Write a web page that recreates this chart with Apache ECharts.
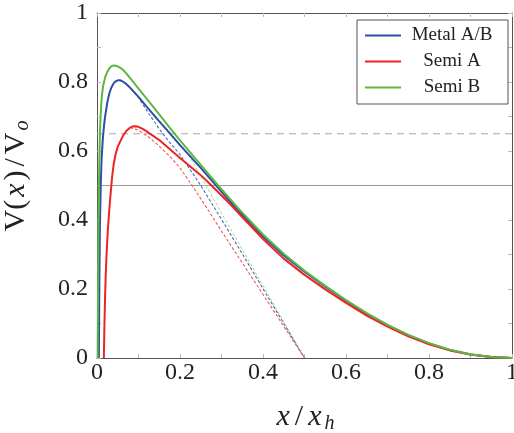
<!DOCTYPE html>
<html>
<head>
<meta charset="utf-8">
<script src="https://cdn.jsdelivr.net/npm/echarts@6/dist/echarts.min.js"></script>
<style>
  html, body { margin: 0; padding: 0; background: #fff; }
  #chart { width: 514px; height: 433px; }
</style>
</head>
<body>
<div id="chart"></div>
<script>
// Normalised potential V(x)/Vo across the depletion width x/xh

// Metal A/B (full solution)
const metalX = [0.0045, 0.0055, 0.007, 0.009, 0.011, 0.014, 0.017, 0.02, 0.025, 0.03, 0.035, 0.04, 0.045, 0.05, 0.055, 0.06, 0.07, 0.08, 0.09, 0.1, 0.12, 0.15, 0.175, 0.2, 0.25, 0.287, 0.335, 0.4, 0.45, 0.5, 0.55, 0.6, 0.65, 0.7, 0.75, 0.8, 0.85, 0.9, 0.95, 1.0];
const metalY = [0, 0.2, 0.38, 0.5, 0.575, 0.635, 0.675, 0.703, 0.742, 0.768, 0.785, 0.796, 0.802, 0.805, 0.805, 0.803, 0.795, 0.783, 0.77, 0.757, 0.728, 0.686, 0.652, 0.617, 0.551, 0.5, 0.434, 0.352, 0.297, 0.25, 0.207, 0.166, 0.128, 0.095, 0.066, 0.042, 0.023, 0.01, 0.003, 0];

// Semi A
const semiAX = [0.0165, 0.018, 0.0195, 0.021, 0.023, 0.026, 0.029, 0.032, 0.036, 0.04, 0.045, 0.05, 0.056, 0.063, 0.07, 0.078, 0.085, 0.092, 0.1, 0.11, 0.12, 0.13, 0.14, 0.152, 0.175, 0.2, 0.25, 0.276, 0.32, 0.4, 0.45, 0.5, 0.55, 0.6, 0.65, 0.7, 0.75, 0.8, 0.85, 0.9, 0.95, 1.0];
const semiAY = [0, 0.1, 0.18, 0.24, 0.3, 0.37, 0.42, 0.465, 0.52, 0.56, 0.592, 0.612, 0.628, 0.645, 0.657, 0.666, 0.671, 0.672, 0.67, 0.664, 0.657, 0.648, 0.64, 0.63, 0.606, 0.58, 0.53, 0.5, 0.447, 0.345, 0.288, 0.241, 0.199, 0.16, 0.123, 0.091, 0.063, 0.04, 0.022, 0.01, 0.003, 0];

// Semi B
const semiBX = [0.0015, 0.0025, 0.0035, 0.005, 0.0065, 0.008, 0.01, 0.012, 0.015, 0.02, 0.025, 0.03, 0.035, 0.04, 0.045, 0.05, 0.06, 0.07, 0.08, 0.09, 0.1, 0.12, 0.15, 0.175, 0.2, 0.25, 0.292, 0.345, 0.4, 0.45, 0.5, 0.55, 0.6, 0.65, 0.7, 0.75, 0.8, 0.85, 0.9, 0.95, 1.0];
const semiBY = [0, 0.2, 0.38, 0.53, 0.62, 0.685, 0.73, 0.763, 0.79, 0.815, 0.83, 0.84, 0.846, 0.848, 0.847, 0.845, 0.838, 0.826, 0.811, 0.796, 0.781, 0.751, 0.706, 0.668, 0.631, 0.56, 0.5, 0.428, 0.358, 0.302, 0.253, 0.209, 0.168, 0.13, 0.096, 0.067, 0.043, 0.024, 0.011, 0.003, 0];

// Approximate (depletion) profiles, dashed
const metalApproxX = [0.065, 0.08, 0.1, 0.12, 0.15, 0.175, 0.2, 0.25, 0.3, 0.35, 0.4, 0.45, 0.5];
const metalApproxY = [0.8, 0.785, 0.755, 0.717, 0.664, 0.625, 0.59, 0.5, 0.402, 0.302, 0.201, 0.1, 0];

const semiAApproxX = [0.08, 0.1, 0.125, 0.15, 0.175, 0.2, 0.228, 0.25, 0.3, 0.35, 0.4, 0.45, 0.5];
const semiAApproxY = [0.668, 0.66, 0.64, 0.614, 0.585, 0.551, 0.502, 0.462, 0.368, 0.276, 0.184, 0.092, 0];

const semiBApproxX = [0.12, 0.15, 0.176, 0.2, 0.224, 0.264, 0.3, 0.35, 0.4, 0.45, 0.5];
const semiBApproxY = [0.725, 0.69, 0.653, 0.62, 0.583, 0.497, 0.42, 0.315, 0.21, 0.105, 0];

// Horizontal reference levels
const solidLevel = 0.5;
const dashedLevel = 0.65;

// Axis tick labels
const xTickLabels = ['0', '0.2', '0.4', '0.6', '0.8', '1'];
const yTickLabels = ['0', '0.2', '0.4', '0.6', '0.8', '1'];

const FONT = '"Liberation Serif", "DejaVu Serif", serif';
const C_METAL = '#2e4ea8';
const C_SEMIA = '#ee2424';
const C_SEMIB = '#5cb840';

function pairs(xs, ys) { return xs.map((x, i) => [x, ys[i]]); }

function axisCommon(extra) {
  return Object.assign({
    type: 'value', min: 0, max: 1, interval: 0.2,
    axisLine: { show: true, onZero: false, lineStyle: { color: '#555', width: 1 } },
    axisTick: { show: true, inside: true, length: 4, lineStyle: { color: '#bbb', width: 1 } },
    minorTick: { show: true, splitNumber: 2, length: 4, lineStyle: { color: '#bbb', width: 1 } },
    splitLine: { show: false },
    minorSplitLine: { show: false }
  }, extra);
}

const chart = echarts.init(document.getElementById('chart'), null, { renderer: 'canvas' });

const nameRich = {
  r: { fontFamily: FONT, fontSize: 30, color: '#222', padding: [0, 1, 0, 1] },
  sl: { fontFamily: FONT, fontSize: 30, color: '#222', padding: [0, 3, 0, 3] },
  i: { fontFamily: FONT, fontSize: 30, fontStyle: 'italic', color: '#222', padding: [0, 2, 0, 2] },
  s: { fontFamily: FONT, fontSize: 20, fontStyle: 'italic', color: '#222', padding: [13, 0, 0, 1] }
};

function curve(name, xs, ys, color, z) {
  return {
    name, type: 'line', data: pairs(xs, ys), showSymbol: false, symbol: 'none',
    smooth: false, z,
    color, lineStyle: { color, width: 2 }, silent: true
  };
}
function approx(name, xs, ys, color, width, dash, offset, z) {
  return {
    name, type: 'line', data: pairs(xs, ys), showSymbol: false, symbol: 'none',
    smooth: false, z,
    lineStyle: { color, width, type: dash, dashOffset: offset }, silent: true
  };
}
function level(value, color, dash) {
  return {
    type: 'line', data: [[0, value], [1, value]], showSymbol: false, symbol: 'none', z: 1,
    lineStyle: { color, width: 1, type: dash }, silent: true
  };
}

chart.setOption({
  animation: false,
  backgroundColor: '#fff',
  grid: { left: 97, top: 13, right: 2, bottom: 75, containLabel: false, outerBoundsMode: 'none' },
  xAxis: [
    axisCommon({
      position: 'bottom',
      axisLabel: { fontFamily: FONT, fontSize: 24, color: '#222', margin: 3,
        formatter: v => xTickLabels[Math.round(v / 0.2)] },
      name: '{i|x}{sl|/}{i|x}{s|h}', nameLocation: 'middle', nameGap: 43,
      nameTextStyle: { rich: nameRich }
    }),
    axisCommon({ position: 'top', axisLabel: { show: false } })
  ],
  yAxis: [
    axisCommon({
      position: 'left',
      axisLabel: { fontFamily: FONT, fontSize: 24, color: '#222', margin: 9,
        formatter: v => yTickLabels[Math.round(v / 0.2)] },
      name: '{r|V(}{i|x}{r|)}{sl|/}{r|V}{s|o}', nameLocation: 'middle', nameGap: 64,
      nameTextStyle: { rich: nameRich, padding: [0, 0, 0, 18] }
    }),
    axisCommon({ position: 'right', axisLabel: { show: false } })
  ],
  legend: {
    data: ['Metal A/B', 'Semi A', 'Semi B'],
    orient: 'vertical', left: 357, top: 20,
    backgroundColor: '#fff', borderColor: '#555', borderWidth: 1, borderRadius: 0,
    padding: [6, 10, 7, 8], itemGap: 7, itemWidth: 36, itemHeight: 2, icon: 'rect',
    selectedMode: false,
    formatter: n => '{t|' + n + '}',
    textStyle: { width: 92, rich: { t: { width: 92, align: 'center', fontFamily: FONT, fontSize: 19, lineHeight: 20, color: '#222' } } }
  },
  series: [
    level(solidLevel, '#9a9a9a', 'solid'),
    level(dashedLevel, '#a8a8a8', [7, 5]),
    approx('Semi B approx', semiBApproxX, semiBApproxY, '#9fd98c', 1, [3, 2], 2, 2),
    approx('Metal A/B approx', metalApproxX, metalApproxY, '#4a68b8', 1.1, [3, 2], 0, 3),
    approx('Semi A approx', semiAApproxX, semiAApproxY, '#f05a5a', 1.1, [3, 2], 0, 3),
    curve('Metal A/B', metalX, metalY, C_METAL, 4),
    curve('Semi A', semiAX, semiAY, C_SEMIA, 5),
    curve('Semi B', semiBX, semiBY, C_SEMIB, 6)
  ]
});
</script>
</body>
</html>
